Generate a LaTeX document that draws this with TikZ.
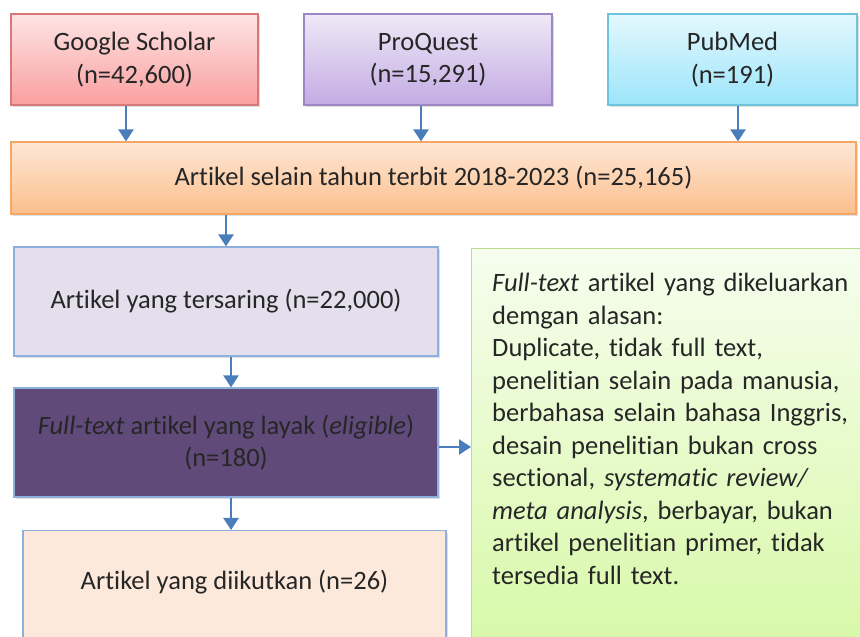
\documentclass[tikz,border=0pt]{standalone}
\usepackage{fontspec}
\setmainfont[Ligatures={NoCommon}]{Carlito}
\usetikzlibrary{arrows.meta,shadows}
\definecolor{txt}{HTML}{262626}
\definecolor{arrc}{HTML}{4A7EBB}
\definecolor{gsT}{HTML}{FDE4E4}\definecolor{gsB}{HTML}{FA9F9F}\definecolor{gsD}{HTML}{D9787A}
\definecolor{pqT}{HTML}{EFE9F7}\definecolor{pqB}{HTML}{C3ABE3}\definecolor{pqD}{HTML}{9D86C4}
\definecolor{pmT}{HTML}{E4F8FE}\definecolor{pmB}{HTML}{9CE5FA}\definecolor{pmD}{HTML}{6EC4DC}
\definecolor{orT}{HTML}{FEE7D6}\definecolor{orB}{HTML}{FBBF8C}\definecolor{orD}{HTML}{F5A766}
\definecolor{tsF}{HTML}{E4DFEC}\definecolor{blD}{HTML}{8EB0DC}
\definecolor{elF}{HTML}{5F4A7A}
\definecolor{dkF}{HTML}{FCE9DB}
\definecolor{grT}{HTML}{F6FDEE}\definecolor{grB}{HTML}{D6F8A4}\definecolor{grD}{HTML}{B9DD8E}
\tikzset{
  x=1pt,y=1pt,
  every node/.style={font=\fontsize{26.5}{32.5}\selectfont, text=txt, align=center, inner sep=0pt},
  box/.style={draw, line width=1.2pt, rectangle,
    drop shadow={opacity=0.25, shadow xshift=2pt, shadow yshift=-2.5pt}},
  arr/.style={draw=arrc, line width=2.6pt, -{Triangle[width=15pt,length=12pt]}},
}
\begin{document}
\begin{tikzpicture}
\useasboundingbox (0,0) rectangle (860,637);
\clip (0,0) rectangle (860,637);
\fill[white] (0,0) rectangle (860,637);
% top sources
\node[box, draw=gsD, top color=gsT, bottom color=gsB, minimum width=247, minimum height=91] (gs) at (134.5,577.5) {Google Scholar\\(n=42,600)};
\node[box, draw=pqD, top color=pqT, bottom color=pqB, minimum width=248, minimum height=91] (pq) at (428,577.5) {ProQuest\\(n=15,291)};
\node[box, draw=pmD, top color=pmT, bottom color=pmB, minimum width=249, minimum height=91] (pm) at (732.5,577.5) {PubMed\\(n=191)};
% year filter
\node[box, draw=orD, top color=orT, bottom color=orB, minimum width=845, minimum height=72] (org) at (433.5,459) {Artikel selain tahun terbit 2018-2023 (n=25,165)};
% screened
\node[box, draw=blD, fill=tsF, minimum width=424, minimum height=109] (ters) at (226,335.5) {Artikel yang tersaring (n=22,000)};
% eligible
\node[box, draw=blD, fill=elF, minimum width=424, minimum height=109] (elig) at (226,194.5) {\textit{Full-text} artikel yang layak (\textit{eligible})\\(n=180)};
% included
\node[box, draw=blD, fill=dkF, minimum width=423, minimum height=140, anchor=north] (diik) at (234.5,107) {};
\node (diiktxt) at (234.5,55) {Artikel yang diikutkan (n=26)};
% excluded
\node[box, draw=grD, top color=grT, bottom color=grB, minimum width=420, minimum height=420, anchor=north west] (excl) at (471,389) {};
\node[anchor=north west, align=left, text width=370] (excltxt) at (492,364)
{\textit{Full-text} artikel yang dikeluarkan\\demgan alasan:\\Duplicate, tidak full text,\\penelitian selain pada manusia,\\berbahasa selain bahasa Inggris,\\desain penelitian bukan cross\\sectional, \textit{systematic review/}\\\textit{meta analysis}, berbayar, bukan\\artikel penelitian primer, tidak\\tersedia full text.};
% arrows
\draw[arr] ([xshift=-8.5pt]gs.south) -- ([xshift=-8.5pt]gs.south |- org.north);
\draw[arr] ([xshift=-7pt]pq.south) -- ([xshift=-7pt]pq.south |- org.north);
\draw[arr] ([xshift=5.5pt]pm.south) -- ([xshift=5.5pt]pm.south |- org.north);
\draw[arr] (ters.north |- org.south) -- (ters.north);
\draw[arr] ([xshift=5pt]ters.south) -- ([xshift=5pt]ters.south |- elig.north);
\draw[arr] ([xshift=5pt]elig.south) -- ([xshift=5pt]elig.south |- diik.north);
\draw[arr] ([yshift=-4.5pt]elig.east) -- ([yshift=-4.5pt]elig.east -| excl.west);
\end{tikzpicture}
\end{document}
